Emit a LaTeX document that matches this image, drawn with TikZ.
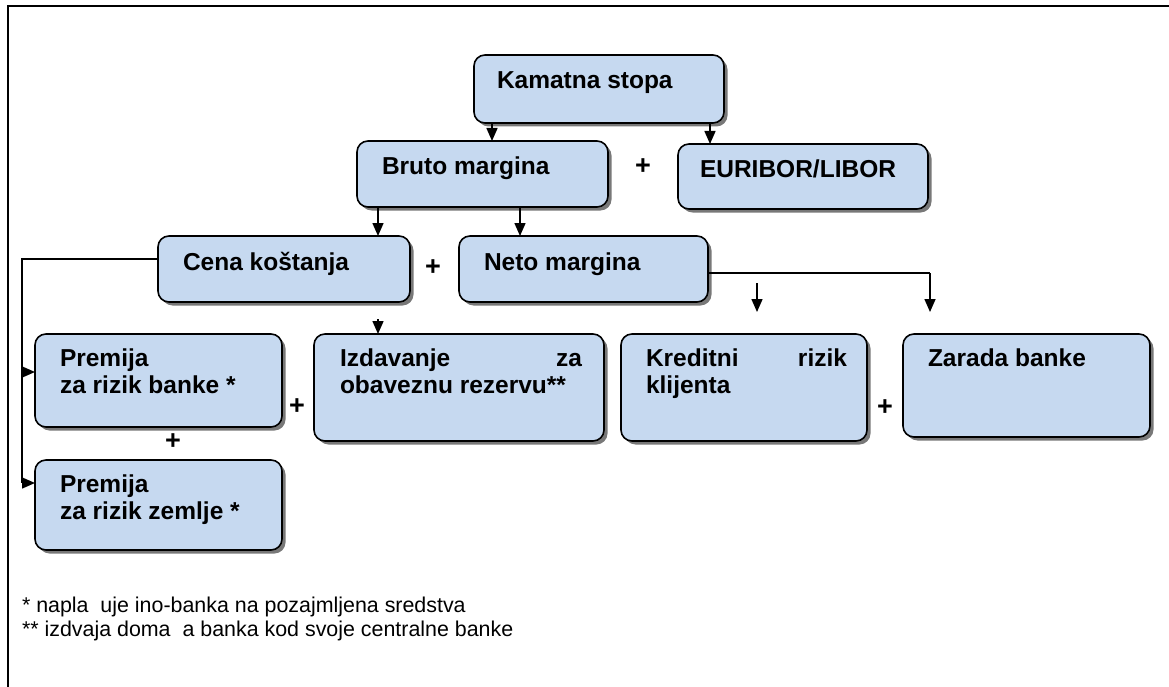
\documentclass[tikz,border=0pt]{standalone}
\usepackage{fontspec}
\setmainfont{Liberation Sans}
\usetikzlibrary{arrows.meta,shadows}
\definecolor{boxblue}{RGB}{198,217,240}
\definecolor{shadowgray}{RGB}{120,120,120}
\begin{document}
\begin{tikzpicture}[x=1pt,y=-1pt,
  box/.style={draw=black, line width=1.6pt, fill=boxblue, rounded corners=11pt,
    anchor=north west, inner sep=0pt, outer sep=0pt,
    drop shadow={shadow xshift=3.5pt, shadow yshift=-3.5pt, fill=shadowgray, opacity=1}},
  txt/.style={inner sep=0pt, outer sep=0pt, anchor=base west, align=left,
    font=\fontsize{24.5}{27}\selectfont\bfseries},
  plus/.style={inner sep=0pt, font=\fontsize{27}{30}\selectfont\bfseries},
  note/.style={inner sep=0pt, outer sep=0pt, anchor=base west,
    font=\fontsize{21.4}{24}\selectfont},
  conn/.style={line width=1.5pt, draw=black},
  arr/.style={line width=1.5pt, draw=black, -{Triangle[width=11pt,length=13pt]}},
]
\useasboundingbox (0,0) rectangle (1169,687);
% frame
\draw[line width=2.5pt] (8,687) -- (8,6) -- (1169,6);

% boxes
\node[box, minimum width=250pt, minimum height=68pt] (kam) at (474,55) {};
\node[box, minimum width=251pt, minimum height=66pt] (bru) at (357,141) {};
\node[box, minimum width=250pt, minimum height=65pt] (eur) at (678,144) {};
\node[box, minimum width=252pt, minimum height=66pt] (cena) at (158,236) {};
\node[box, minimum width=249pt, minimum height=66pt] (neto) at (459,236) {};
\node[box, minimum width=247pt, minimum height=93pt] (prb) at (35,334) {};
\node[box, minimum width=290pt, minimum height=107pt] (izd) at (314,334) {};
\node[box, minimum width=246pt, minimum height=107pt] (kre) at (621,334) {};
\node[box, minimum width=247pt, minimum height=103pt] (zar) at (903,334) {};
\node[box, minimum width=247pt, minimum height=90pt] (prz) at (35,460) {};

% texts (single line: base = baseline; two lines: base = baseline of last line)
\node[txt] (kamT) at ([xshift=23pt,yshift=-34pt]kam.north west) {Kamatna stopa};
\node[txt] (bruT) at ([xshift=25pt,yshift=-34pt]bru.north west) {Bruto margina};
\node[txt] (eurT) at ([xshift=22pt,yshift=-34pt]eur.north west) {EURIBOR/LIBOR};
\node[txt] (cenaT) at ([xshift=25pt,yshift=-34pt]cena.north west) {Cena koštanja};
\node[txt] (netoT) at ([xshift=25pt,yshift=-34pt]neto.north west) {Neto margina};
\node[txt] (prbT) at ([xshift=25pt,yshift=-59pt]prb.north west) {Premija\\za rizik banke *};
\node[txt] (izdT) at ([xshift=26pt,yshift=-59pt]izd.north west) {\makebox[242pt][l]{Izdavanje\hfill za}\\obaveznu rezervu**};
\node[txt] (kreT) at ([xshift=25pt,yshift=-59pt]kre.north west) {\makebox[201pt][l]{Kreditni\hfill rizik}\\klijenta};
\node[txt] (zarT) at ([xshift=25pt,yshift=-32pt]zar.north west) {Zarada banke};
\node[txt] (przT) at ([xshift=25pt,yshift=-59pt]prz.north west) {Premija\\za rizik zemlje *};

% plus signs
\node[plus] (p1) at (643,167) {+};
\node[plus] (p2) at (433,268) {+};
\node[plus] (p3) at (297,407) {+};
\node[plus] (p4) at (885,408) {+};
\node[plus] (p5) at (173,442) {+};

% connectors
\draw[arr] (kam.south -| 492,0) -- (bru.north -| 492,0);
\draw[arr] (kam.south -| 710,0) -- (eur.north -| 710,0);
\draw[arr] (bru.south -| 378,0) -- (cena.north -| 378,0);
\draw[arr] (bru.south -| 520,0) -- (neto.north -| 520,0);
\coordinate (izdS) at (378,319);
\draw[arr] (izdS) -- (izd.north -| izdS);
\coordinate (kreS) at (757,283);
\coordinate (kreE) at (757,312);
\draw[arr] (kreS) -- (kreE);
\coordinate (zarC) at (930,273);
\coordinate (zarE) at (930,312);
\draw[conn] (neto.east |- zarC) -- (zarC);
\draw[arr] (zarC) -- (zarE);
\coordinate (cenaC) at (22,259);
\coordinate (cenaD) at (22,483);
\draw[conn] (cena.west |- cenaC) -- (cenaC) -- (cenaD);
\draw[arr] (22,372) -- (prb.west |- 0,372);
\draw[arr] (cenaD) -- (prz.west |- cenaD);

% footnotes
\node[note] (n1) at (22,612) {* napla\ \ uje ino-banka na pozajmljena sredstva};
\node[note] (n2) at (22,636) {** izdvaja doma\ \ a banka kod svoje centralne banke};
\end{tikzpicture}
\end{document}
